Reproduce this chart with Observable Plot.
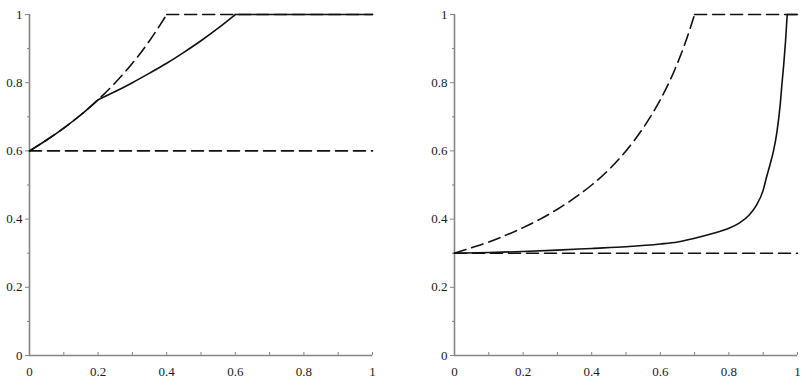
<!DOCTYPE html>
<html>
<head>
<meta charset="utf-8">
<script src="https://cdn.jsdelivr.net/npm/d3@7"></script>
<script src="https://cdn.jsdelivr.net/npm/@observablehq/plot@0.6"></script>
<style>
  html, body { margin: 0; padding: 0; background: #fff; }
  #wrap { display: flex; width: 812px; height: 386px; }
</style>
</head>
<body>
<div id="wrap"></div>
<script>
// ---- Data ----
const majorTicks = [0, 0.2, 0.4, 0.6, 0.8, 1];
const minorTicks = [0.1, 0.3, 0.5, 0.7, 0.9];
const tickLabels = ["0", "0.2", "0.4", "0.6", "0.8", "1"];

// Left panel (solid has a kink at x = 0.2)
const leftSolidX = [0, 0.05, 0.1, 0.15, 0.2, 0.25, 0.3, 0.35, 0.4, 0.45, 0.5, 0.55, 0.6, 1];
const leftSolidY = [0.600, 0.632, 0.667, 0.706, 0.750, 0.774, 0.800, 0.828, 0.857, 0.889, 0.923, 0.960, 1.0, 1.0];
const leftSolidKinks = [0.2, 0.6];
const leftDashUpX = [0, 0.05, 0.1, 0.15, 0.2, 0.25, 0.3, 0.35, 0.4, 1];
const leftDashUpY = [0.600, 0.632, 0.667, 0.706, 0.750, 0.800, 0.857, 0.923, 1.0, 1.0];
const leftDashUpKinks = [0.4];
const leftDashLowX = [0, 1];
const leftDashLowY = [0.6, 0.6];

// Right panel
const rightSolidX = [0, 0.1, 0.2, 0.3, 0.4, 0.5, 0.6, 0.65, 0.7, 0.75, 0.8, 0.83, 0.86, 0.88, 0.9, 0.91, 0.92, 0.93, 0.94, 0.95, 0.955, 0.96, 0.965, 0.97, 1];
const rightSolidY = [0.300, 0.302, 0.305, 0.309, 0.314, 0.319, 0.327, 0.333, 0.344, 0.357, 0.373, 0.388, 0.413, 0.440, 0.485, 0.524, 0.560, 0.600, 0.655, 0.740, 0.800, 0.855, 0.920, 1.0, 1.0];
const rightSolidKinks = [0.97];
const rightDashUpX = [0, 0.05, 0.1, 0.15, 0.2, 0.25, 0.3, 0.35, 0.4, 0.45, 0.5, 0.55, 0.6, 0.62, 0.65, 0.67, 0.7, 1];
const rightDashUpY = [0.300, 0.316, 0.333, 0.353, 0.375, 0.400, 0.429, 0.462, 0.500, 0.545, 0.600, 0.667, 0.750, 0.789, 0.857, 0.909, 1.0, 1.0];
const rightDashUpKinks = [0.7];
const rightDashLowX = [0, 1];
const rightDashLowY = [0.3, 0.3];

const zip = (xs, ys) => xs.map((x, i) => ({x, y: ys[i]}));
// split a polyline into smooth pieces at its kinks
const split = (pts, kinks) => {
  const out = [];
  const bounds = [-Infinity, ...kinks, Infinity];
  bounds.slice(1).forEach((hi, k) => {
    const lo = bounds[k];
    pts.filter(p => p.x >= lo && p.x <= hi).forEach(p => out.push({...p, seg: k}));
  });
  return out;
};
const allTicks = majorTicks.concat(minorTicks).sort((a, b) => a - b);
const labelData = majorTicks.map((v, i) => ({v, label: tickLabels[i]}));

const AXIS = "#858585";
const INK = "#111";
const DASH = "12,6";
const FONT = {fontFamily: "Liberation Serif", fontSize: 13, fill: "#1a1a1a"};

function panel(solid, dashUp, dashLow, marginLeft, marginRight) {
  return Plot.plot({
    width: 406,
    height: 386,
    marginLeft,
    marginRight,
    marginTop: 14,
    marginBottom: 31,
    x: {domain: [0, 1], axis: null},
    y: {domain: [0, 1], axis: null},
    marks: [
      // tick marks: x ticks point inward, y ticks point outward
      Plot.ruleX(allTicks, {x: d => d, y1: 0, y2: 0, insetTop: -3, stroke: AXIS}),
      Plot.ruleY(majorTicks, {y: d => d, x1: 0, x2: 0, insetLeft: -4, stroke: AXIS}),
      Plot.ruleY(minorTicks, {y: d => d, x1: 0, x2: 0, insetLeft: -2, stroke: AXIS}),
      // tick labels
      Plot.text(labelData, {x: "v", y: 0, text: "label", dy: 16, ...FONT}),
      Plot.text(labelData, {x: 0, y: "v", text: "label", dx: -7, textAnchor: "end", ...FONT}),
      // axis lines
      Plot.ruleX([0], {stroke: AXIS, strokeWidth: 1.6}),
      Plot.ruleY([0], {stroke: AXIS, strokeWidth: 1.6}),
      // curves
      Plot.line(dashLow, {x: "x", y: "y", stroke: INK, strokeWidth: 1.6, strokeDasharray: DASH}),
      Plot.line(dashUp, {x: "x", y: "y", z: "seg", stroke: INK, strokeWidth: 1.6, strokeDasharray: DASH, curve: "monotone-x"}),
      Plot.line(solid, {x: "x", y: "y", z: "seg", stroke: INK, strokeWidth: 1.6, curve: "monotone-x"})
    ]
  });
}

const wrap = document.getElementById("wrap");
wrap.append(panel(
  split(zip(leftSolidX, leftSolidY), leftSolidKinks),
  split(zip(leftDashUpX, leftDashUpY), leftDashUpKinks),
  zip(leftDashLowX, leftDashLowY), 29, 34));
wrap.append(panel(
  split(zip(rightSolidX, rightSolidY), rightSolidKinks),
  split(zip(rightDashUpX, rightDashUpY), rightDashUpKinks),
  zip(rightDashLowX, rightDashLowY), 48, 15));
</script>
</body>
</html>
